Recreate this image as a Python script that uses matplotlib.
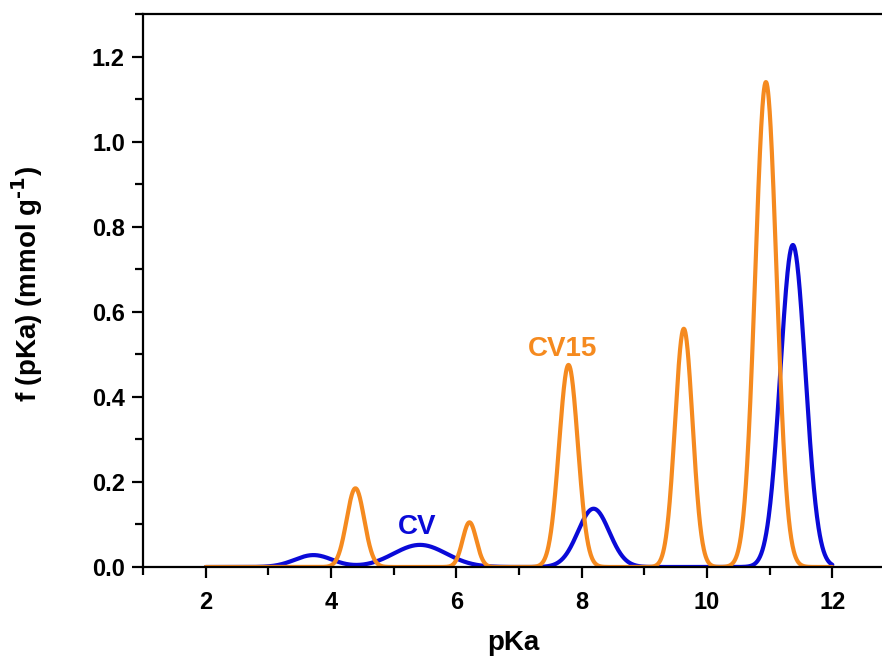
import numpy as np
import matplotlib
matplotlib.use("Agg")
import matplotlib.pyplot as plt
from matplotlib.ticker import MultipleLocator

plt.rcParams["font.family"] = ["Liberation Sans", "DejaVu Sans"]
plt.rcParams["font.weight"] = "bold"
plt.rcParams["mathtext.default"] = "bf"

# pKa distribution peaks (centre, height in mmol/g, gaussian sigma)
CV_PKA = [3.72, 5.42, 8.19, 11.37]
CV_HEIGHT = [0.028, 0.052, 0.137, 0.757]
CV_SIGMA = [0.30, 0.42, 0.25, 0.20]

CV15_PKA = [4.39, 6.21, 7.79, 9.63, 10.94]
CV15_HEIGHT = [0.185, 0.105, 0.475, 0.56, 1.14]
CV15_SIGMA = [0.14, 0.11, 0.15, 0.14, 0.17]

PKA_RANGE = (2.0, 12.0)

BLUE = "#0a0ad8"
ORANGE = "#f58a1f"


def distribution(pka, centres, heights, sigmas):
    f = np.zeros_like(pka)
    for c, h, s in zip(centres, heights, sigmas):
        f += h * np.exp(-(pka - c) ** 2 / (2 * s ** 2))
    return f


pka = np.linspace(PKA_RANGE[0], PKA_RANGE[1], 2001)
f_cv = distribution(pka, CV_PKA, CV_HEIGHT, CV_SIGMA)
f_cv15 = distribution(pka, CV15_PKA, CV15_HEIGHT, CV15_SIGMA)

fig = plt.figure(figsize=(8.82, 6.62), dpi=100)
ax = fig.add_axes([143 / 882, 1 - 567 / 662, 752 / 882, 553 / 662])

ax.plot(pka, f_cv, color=BLUE, linewidth=3, solid_capstyle="round")
ax.plot(pka, f_cv15, color=ORANGE, linewidth=3, solid_capstyle="round")

ax.text(7.69, 0.513, "CV15", color=ORANGE, fontsize=20, fontweight="bold",
        ha="center", va="center")
ax.text(5.37, 0.094, "CV", color=BLUE, fontsize=20, fontweight="bold",
        ha="center", va="center")

ax.set_xlim(1, 13)
ax.set_ylim(0, 1.3)
ax.xaxis.set_major_locator(MultipleLocator(2))
ax.xaxis.set_minor_locator(MultipleLocator(1))
ax.yaxis.set_major_locator(MultipleLocator(0.2))
ax.yaxis.set_minor_locator(MultipleLocator(0.1))
ax.yaxis.set_major_formatter(plt.FormatStrFormatter("%.1f"))

for side in ax.spines.values():
    side.set_linewidth(1.6)
ax.tick_params(which="major", direction="out", length=8, width=1.6,
               labelsize=17, pad=5)
ax.tick_params(which="minor", direction="out", length=5.5, width=1.6)
ax.tick_params(axis="x", which="major", pad=9)
ax.tick_params(top=False, right=False, which="both")

ax.set_xlabel("pKa", fontsize=20, fontweight="bold")
ax.set_ylabel("f (pKa) (mmol g$^{\\text{-1}}$)", fontsize=20, fontweight="bold")
ax.xaxis.set_label_coords(0.493, -0.114)
ax.yaxis.set_label_coords(-0.130, 0.511)

fig.savefig("out.png", dpi=100)
